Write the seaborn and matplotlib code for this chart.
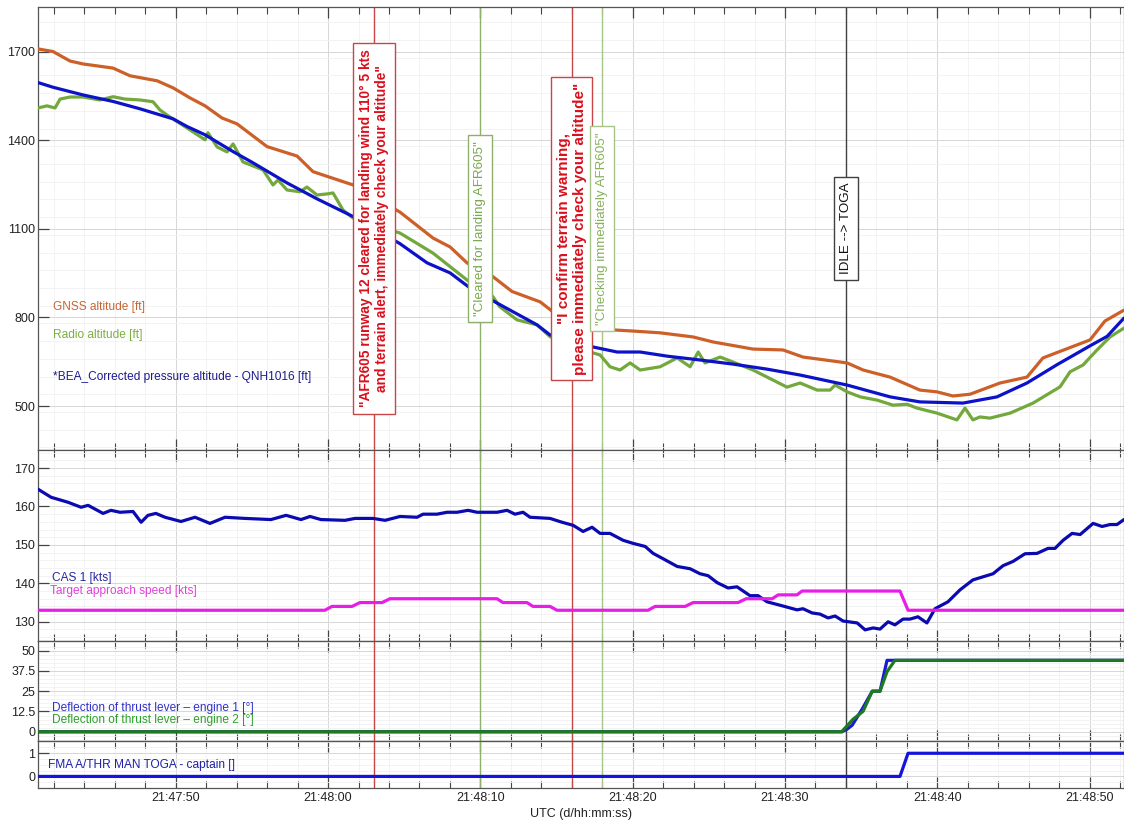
import matplotlib
matplotlib.use("Agg")
import matplotlib.pyplot as plt
import matplotlib.transforms as mtransforms
from matplotlib.ticker import MultipleLocator, FuncFormatter
import seaborn as sns

# time = seconds after 21:47:00 UTC
gnss_t = [40.95, 41.94, 43.05, 43.91, 45.88, 46.99, 48.77, 49.82, 50.93, 51.92, 53.03, 54.02,
          55.99, 57.96, 59.01, 61.64, 64.72, 66.89, 68.01, 69.12, 70.83, 72.08, 73.92, 74.77,
          76.22, 77.53, 78.71, 80.03, 81.80, 83.97, 85.28, 87.90, 89.87, 91.18, 94.08, 95.13,
          96.90, 98.86, 99.98, 101.03, 102.15, 104.12, 105.89, 106.94, 110.03, 111.01, 112.26]
gnss_ft = [1710, 1701, 1669, 1659, 1645, 1619, 1602, 1578, 1544, 1517, 1476, 1456,
           1379, 1347, 1294, 1249, 1157, 1069, 1039, 985, 938, 888, 853, 819,
           790, 768, 758, 754, 748, 734, 717, 693, 690, 666, 646, 622,
           598, 554, 548, 534, 540, 578, 598, 663, 724, 788, 825]

radio_t = [40.95, 41.54, 42.07, 42.40, 43.05, 43.91, 45.02, 45.88, 46.66, 47.65, 48.50, 48.96,
           49.42, 50.74, 51.92, 52.11, 52.71, 53.36, 53.76, 54.41, 55.73, 56.38, 56.71, 57.30,
           58.16, 58.61, 59.27, 59.99, 60.32, 60.98, 61.64, 64.72, 66.89, 69.12, 70.83, 71.26,
           72.40, 73.72, 74.57, 77.40, 77.86, 78.51, 79.17, 79.83, 80.49, 81.80, 82.92, 83.77,
           84.30, 84.75, 85.74, 86.59, 87.90, 89.21, 90.13, 90.99, 92.11, 92.96, 93.29, 94.08,
           94.94, 96.05, 97.09, 98.01, 98.67, 99.98, 101.29, 101.82, 102.34, 102.80, 103.46, 104.78,
           106.29, 108.06, 108.72, 109.57, 110.49, 111.34, 112.26]
radio_ft = [1510, 1517, 1510, 1540, 1547, 1547, 1537, 1548, 1540, 1537, 1531, 1503,
            1486, 1442, 1402, 1426, 1378, 1361, 1388, 1327, 1300, 1249, 1266, 1232,
            1226, 1242, 1215, 1219, 1222, 1164, 1137, 1086, 1018, 927, 870, 837,
            792, 775, 735, 680, 673, 633, 622, 646, 622, 633, 663, 633,
            683, 646, 666, 649, 622, 588, 564, 578, 554, 554, 571, 548,
            531, 520, 503, 506, 493, 476, 453, 493, 453, 463, 459, 476,
            510, 565, 616, 639, 690, 734, 764]

press_t = [40.95, 41.94, 43.91, 45.88, 47.65, 49.82, 50.74, 51.92, 53.76, 55.07, 57.30, 59.27,
           61.64, 64.72, 66.50, 68.01, 69.32, 71.09, 73.72, 74.57, 77.40, 78.98, 80.49, 82.26,
           84.42, 86.59, 88.82, 90.99, 94.08, 96.90, 98.86, 101.69, 103.92, 105.89, 107.86,
           110.03, 111.15, 112.26]
press_ft = [1596, 1580, 1554, 1532, 1507, 1473, 1447, 1419, 1362, 1324, 1256, 1202,
            1142, 1050, 985, 951, 900, 849, 775, 741, 700, 683, 683, 669,
            656, 642, 625, 605, 571, 531, 514, 510, 531, 578, 640,
            704, 736, 798]

cas_t = [40.95, 41.81, 42.92, 43.78, 44.24, 45.22, 45.74, 46.34, 47.19, 47.72, 48.17, 48.69,
         49.29, 50.34, 51.26, 52.24, 53.23, 54.54, 56.25, 57.24, 58.22, 58.81, 59.53, 61.11,
         61.77, 62.95, 63.74, 64.72, 65.84, 66.23, 67.15, 67.81, 68.47, 69.19, 69.78, 71.09,
         71.75, 72.27, 72.80, 73.26, 74.57, 75.36, 76.09, 76.74, 77.33, 77.86, 78.51, 79.37,
         80.03, 80.82, 81.34, 82.00, 82.92, 83.77, 84.42, 84.95, 85.54, 86.26, 86.85, 87.70,
         88.23, 88.82, 89.87, 90.79, 91.18, 91.78, 92.30, 92.83, 93.29, 93.81, 94.74, 95.26,
         95.79, 96.24, 96.77, 97.22, 97.75, 98.21, 98.73, 99.32, 99.85, 100.70, 101.49, 102.34,
         103.66, 104.32, 104.97, 105.76, 106.55, 107.27, 107.73, 108.26, 108.85, 109.38, 110.23,
         110.82, 111.34, 111.80, 112.26]
cas_kt = [164.5, 162.4, 161.1, 159.8, 160.3, 158.2, 159.0, 158.5, 158.7, 155.9, 157.7, 158.2,
          157.2, 156.1, 157.2, 155.6, 157.2, 156.9, 156.6, 157.7, 156.6, 157.4, 156.6, 156.4,
          156.9, 156.9, 156.4, 157.4, 157.2, 158.0, 158.0, 158.5, 158.5, 159.0, 158.5, 158.5,
          159.0, 158.0, 158.5, 157.2, 156.9, 155.9, 155.1, 153.5, 154.6, 153.0, 153.0, 151.2,
          150.4, 149.6, 147.8, 146.4, 144.4, 143.8, 142.5, 142.0, 140.2, 138.8, 139.1, 136.8,
          136.8, 135.2, 134.1, 133.1, 133.4, 132.3, 132.0, 131.0, 131.5, 130.2, 129.7, 127.9,
          128.4, 128.1, 130.0, 129.2, 130.7, 130.7, 131.3, 129.7, 133.4, 135.2, 138.3, 140.9,
          142.5, 144.6, 145.7, 147.7, 147.8, 149.1, 149.1, 151.2, 153.0, 152.7, 155.6,
          154.8, 155.3, 155.3, 156.6]

target_t = [40.95, 59.79, 60.25, 61.57, 62.09, 63.54, 64.06, 71.09, 71.48, 73.06, 73.45, 74.57,
            75.03, 81.01, 81.47, 83.44, 83.97, 86.92, 87.45, 89.16, 89.55, 90.79, 91.12, 97.55,
            98.08, 112.26]
target_kt = [133, 133, 134, 134, 135, 135, 136, 136, 135, 135, 134, 134,
             133, 133, 134, 134, 135, 135, 136, 136, 137, 137, 138, 138,
             133, 133]

eng1_t = [40.95, 93.74, 94.08, 94.41, 95.07, 95.73, 96.24, 96.70, 112.26]
eng1_deg = [0, 0, 1.6, 4, 14, 25, 25, 44, 44]
eng2_t = [40.95, 93.72, 94.47, 95.13, 95.73, 96.24, 96.70, 97.22, 112.26]
eng2_deg = [0, 0, 7.7, 12.6, 25, 25, 37, 44, 44]

fma_t = [40.95, 97.55, 98.08, 112.26]
fma_val = [0, 0, 1, 1]

event_t = [63.0, 70.0, 76.0, 78.0, 94.0]
event_col = ['#c84646', '#8fb06a', '#c84646', '#a8c488', '#404040']
event_txt = ['"AFR605 runway 12 cleared for landing wind 110° 5 kts\nand terrain alert, immediately check your altitude"',
             '"Cleared for landing AFR605"',
             '"I confirm terrain warning,\nplease immediately check your altitude"',
             '"Checking immediately AFR605"',
             'IDLE --> TOGA']
event_txtcol = ['#d8101c', '#7aa84e', '#d8101c', '#86b25a', '#111111']
event_bold = [True, False, True, False, False]
event_size = [9.9, 9.6, 11.0, 9.6, 9.6]
event_pad = [0.45, 0.45, 0.35, 0.45, 0.45]

sns.set_theme(style="white")
plt.rcParams['font.family'] = ['Liberation Sans', 'DejaVu Sans']
plt.rcParams['axes.edgecolor'] = '#555555'
plt.rcParams['axes.linewidth'] = 0.9

W, H = 1124, 823
fig = plt.figure(figsize=(W / 100, H / 100), dpi=100)


def rect(top, bottom):
    return [38 / W, 1 - bottom / H, 1086 / W, (bottom - top) / H]


ax1 = fig.add_axes(rect(7, 450))
ax2 = fig.add_axes(rect(450, 641), sharex=ax1)
ax3 = fig.add_axes(rect(641, 741), sharex=ax1)
ax4 = fig.add_axes(rect(741, 788), sharex=ax1)
axes = [ax1, ax2, ax3, ax4]

lw = 2.3
sns.lineplot(x=gnss_t, y=gnss_ft, ax=ax1, color='#cc6028', lw=lw, zorder=3)
sns.lineplot(x=radio_t, y=radio_ft, ax=ax1, color='#72a83c', lw=lw, zorder=3)
sns.lineplot(x=press_t, y=press_ft, ax=ax1, color='#0c12c8', lw=lw, zorder=3)
sns.lineplot(x=cas_t, y=cas_kt, ax=ax2, color='#0a0ab0', lw=lw, zorder=3)
sns.lineplot(x=target_t, y=target_kt, ax=ax2, color='#e61ee6', lw=lw, zorder=3)
sns.lineplot(x=eng1_t, y=eng1_deg, ax=ax3, color='#1a1ad2', lw=lw, zorder=3)
sns.lineplot(x=eng2_t, y=eng2_deg, ax=ax3, color='#1e7a1e', lw=lw, zorder=3)
sns.lineplot(x=fma_t, y=fma_val, ax=ax4, color='#1414dc', lw=lw, zorder=3)

ax1.set_ylim(351, 1852)
ax1.set_yticks([500, 800, 1100, 1400, 1700])
ax1.yaxis.set_minor_locator(MultipleLocator(60))
ax2.set_ylim(125, 174.7)
ax2.set_yticks([130, 140, 150, 160, 170])
ax2.yaxis.set_minor_locator(MultipleLocator(2))
ax3.set_ylim(-5.7, 55.9)
ax3.set_yticks([0, 12.5, 25, 37.5, 50])
ax3.set_yticklabels(['0', '12.5', '25', '37.5', '50'])
ax3.yaxis.set_minor_locator(MultipleLocator(2.5))
ax4.set_ylim(-0.5, 1.53)
ax4.set_yticks([0, 1])
ax4.yaxis.set_minor_locator(MultipleLocator(0.25))

ax1.set_xlim(40.95, 112.26)
ax1.xaxis.set_major_locator(MultipleLocator(10))
ax1.xaxis.set_minor_locator(MultipleLocator(2))
ax1.xaxis.set_major_formatter(FuncFormatter(
    lambda v, p: f"21:{47 + int(round(v)) // 60:02d}:{int(round(v)) % 60:02d}"))

for ax in axes:
    ax.set_axisbelow(True)
    ax.grid(which='major', color='#d6d6d6', lw=0.7)
    ax.grid(which='minor', color='#f1f1f1', lw=0.6)
    ax.tick_params(axis='x', which='both', direction='in', top=True, bottom=True,
                   labelbottom=(ax is ax4), colors='#444444', labelcolor='#222222',
                   labelsize=9, pad=3)
    ax.tick_params(axis='x', which='major', length=8, width=0.9)
    ax.tick_params(axis='x', which='minor', length=5, width=0.8)
    ax.tick_params(axis='y', which='major', direction='in', left=True, length=8, width=0.9,
                   colors='#444444', labelcolor='#222222', labelsize=9, pad=2)
    ax.tick_params(axis='y', which='minor', left=False)
    ax.set_ylabel('')
    for t, c in zip(event_t, event_col):
        ax.axvline(t, color=c, lw=1.0, zorder=2)

ax4.set_xlabel('UTC (d/hh:mm:ss)', fontsize=9, color='#222222', labelpad=3)

trans = mtransforms.blended_transform_factory(ax1.transData, ax1.transAxes)
for t, s, c, ec, b, fs, pd_ in zip(event_t, event_txt, event_txtcol, event_col,
                                   event_bold, event_size, event_pad):
    ax1.text(t, 0.5, s, transform=trans, rotation=90, ha='center', va='center',
             multialignment='center', fontsize=fs, color=c,
             fontweight='bold' if b else 'normal', zorder=6,
             bbox=dict(boxstyle=f'square,pad={pd_}', fc='white', ec=ec, lw=1.0))

ax1.text(0.0138, 0.323, 'GNSS altitude [ft]', color='#c86432', fontsize=8.6,
         transform=ax1.transAxes, va='center')
ax1.text(0.0138, 0.260, 'Radio altitude [ft]', color='#7aaf40', fontsize=8.6,
         transform=ax1.transAxes, va='center')
ax1.text(0.0138, 0.165, '*BEA_Corrected pressure altitude - QNH1016 [ft]', color='#1c1c8c',
         fontsize=8.6, transform=ax1.transAxes, va='center')
ax2.text(0.0129, 0.33, 'CAS 1 [kts]', color='#2828a0', fontsize=8.6,
         transform=ax2.transAxes, va='center')
ax2.text(0.011, 0.262, 'Target approach speed [kts]', color='#e040d8', fontsize=8.6,
         transform=ax2.transAxes, va='center')
ax3.text(0.0129, 0.33, 'Deflection of thrust lever – engine 1 [°]', color='#3232c8',
         fontsize=8.6, transform=ax3.transAxes, va='center')
ax3.text(0.0129, 0.21, 'Deflection of thrust lever – engine 2 [°]', color='#2ca02c',
         fontsize=8.6, transform=ax3.transAxes, va='center')
ax4.text(0.0092, 0.49, 'FMA A/THR MAN TOGA - captain []', color='#2020a8', fontsize=8.6,
         transform=ax4.transAxes, va='center')

fig.savefig('out.png', dpi=100, facecolor='white')
